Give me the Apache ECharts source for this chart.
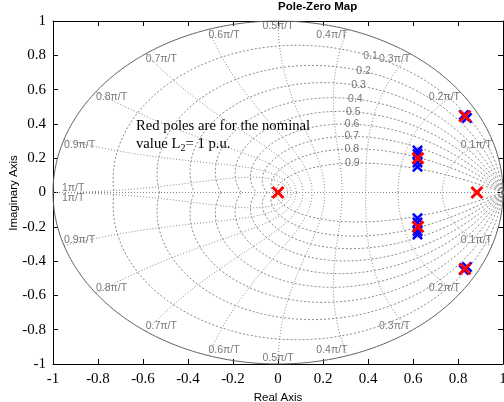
<!DOCTYPE html>
<html><head><meta charset="utf-8">
<script src="https://cdn.jsdelivr.net/npm/echarts@6/dist/echarts.min.js"></script>
<style>html,body{margin:0;padding:0;background:#fff}#c{width:504px;height:402px}</style>
</head><body><div id="c"></div>
<script>
// ---- data ----
const zetaValues = [0.1,0.2,0.3,0.4,0.5,0.6,0.7,0.8,0.9];
const zetaLabels = ['0.1','0.2','0.3','0.4','0.5','0.6','0.7','0.8','0.9'];
const wnFactors = [0.1,0.2,0.3,0.4,0.5,0.6,0.7,0.8,0.9,1.0];
const wnLabels = ['0.1π/T','0.2π/T','0.3π/T','0.4π/T','0.5π/T','0.6π/T','0.7π/T','0.8π/T','0.9π/T','1π/T'];
const bluePolesRe = [0.62,0.62,0.62,0.62,0.62,0.62,0.62,0.62,0.826,0.84,0.826,0.84];
const bluePolesIm = [0.245,0.225,0.175,0.15,-0.245,-0.225,-0.175,-0.15,0.452,0.435,-0.452,-0.435];
const redPolesRe = [0,0.884,0.622,0.622,0.831,0.831];
const redPolesIm = [0,0,0.2,-0.2,0.445,-0.445];
const titleText = 'Pole-Zero Map';
const xName = 'Real Axis', yName = 'Imaginary Axis';

// ---- grid geometry helpers ----
const PI = Math.PI;
function zetaCurve(z, sgn){
  const m = z/Math.sqrt(1-z*z), pts=[];
  for(let i=0;i<=200;i++){const th=PI*i/200, r=Math.exp(-m*th); pts.push([r*Math.cos(th), sgn*r*Math.sin(th)]);}
  return pts;
}
function wnCurve(w, sgn){
  const pts=[];
  for(let i=0;i<=200;i++){const zt=Math.sin(PI/2*i/200), r=Math.exp(-zt*w), a=w*Math.sqrt(Math.max(0,1-zt*zt)); pts.push([r*Math.cos(a), sgn*r*Math.sin(a)]);}
  return pts;
}
const gridColor = '#858585';
const series = [];
const circ=[]; for(let i=0;i<=360;i++){const a=i*PI/180; circ.push([Math.cos(a),Math.sin(a)]);}
series.push({type:'line',data:circ,showSymbol:false,silent:true,lineStyle:{color:'#606060',width:1},z:2});
series.push({type:'line',data:[[-1,0],[1,0]],showSymbol:false,silent:true,lineStyle:{color:gridColor,width:1,type:[1,2]},z:1});
zetaValues.forEach(z=>{[1,-1].forEach(s=>series.push({type:'line',data:zetaCurve(z,s),showSymbol:false,silent:true,lineStyle:{color:gridColor,width:1,type:[2,2]},z:1}));});
wnFactors.forEach(f=>{[1,-1].forEach(s=>series.push({type:'line',data:wnCurve(f*PI,s),showSymbol:false,silent:true,lineStyle:{color:gridColor,width:1,type:[1,2]},z:1}));});

// zeta labels at wn = 0.35*pi on each curve
const zLab = zetaValues.map((z,i)=>{const w=0.35*PI, r=Math.exp(-z*w), a=w*Math.sqrt(1-z*z);
  return {value:[r*Math.cos(a), r*Math.sin(a)], label:{formatter:zetaLabels[i]}};});
series.push({type:'scatter',data:zLab,symbolSize:1,itemStyle:{color:'transparent'},silent:true,z:3,
  label:{show:true,position:'inside',align:'center',verticalAlign:'middle',fontSize:10.5,fontFamily:'Liberation Sans',color:'#555'}});
// wn labels on unit circle
const wLab=[];
wnFactors.forEach((f,i)=>{[1,-1].forEach(s=>{
  const a=f*PI; let x=Math.cos(a), y=s*Math.sin(a);
  let align = x>0.01?'right':(x<-0.01?'left':'center');
  let va = s>0?'top':'bottom'; let off=[0,0];
  if(f===1){ y=0; align='left'; va = s>0?'bottom':'top'; off=[9, s>0?1:0]; }
  wLab.push({value:[x,y],label:{formatter:wnLabels[i],align:align,verticalAlign:va,offset:off}});
});});
series.push({type:'scatter',data:wLab,symbolSize:1,itemStyle:{color:'transparent'},silent:true,z:3,
  label:{show:true,position:'inside',fontSize:10.5,fontFamily:'Liberation Sans',color:'#555'}});

const xMark = 'path://M0,1.6L1.6,0L5,3.4L8.4,0L10,1.6L6.6,5L10,8.4L8.4,10L5,6.6L1.6,10L0,8.4L3.4,5Z';
series.push({type:'scatter',data:bluePolesRe.map((x,i)=>[x,bluePolesIm[i]]),symbol:xMark,symbolSize:11,itemStyle:{color:'#0000ff',opacity:1},silent:true,z:5});
series.push({type:'scatter',data:redPolesRe.map((x,i)=>[x,redPolesIm[i]]),symbol:xMark,symbolSize:13,itemStyle:{color:'#ff0000',opacity:1},silent:true,z:6});

const chart = echarts.init(document.getElementById('c'),null,{renderer:'canvas'});
const axisCommon = {type:'value',min:-1,max:1,interval:0.2,splitLine:{show:false},
  axisLine:{show:true,onZero:false,lineStyle:{color:'#000',width:1}},
  axisTick:{show:true,inside:true,length:5,lineStyle:{color:'#000'}}};
chart.setOption({
  animation:false,
  grid:{left:53,right:1,top:21,bottom:38,containLabel:false,outerBoundsMode:'none'},
  xAxis:[
    Object.assign({},axisCommon,{position:'bottom',name:xName,nameLocation:'middle',nameGap:23,
      nameTextStyle:{fontFamily:'Liberation Sans',fontSize:11.5,color:'#000'},
      axisLabel:{fontFamily:'Liberation Serif',fontSize:15,color:'#000',margin:8,showMaxLabel:true,formatter:v=>String(Math.round(v*10)/10)}}),
    Object.assign({},axisCommon,{position:'top',axisLabel:{show:false}})
  ],
  yAxis:[
    Object.assign({},axisCommon,{position:'left',
      axisLabel:{fontFamily:'Liberation Serif',fontSize:15,color:'#000',margin:7,formatter:v=>String(Math.round(v*10)/10)}}),
    Object.assign({},axisCommon,{position:'right',axisLabel:{show:false}})
  ],
  series:series,
  graphic:[
    {type:'text',left:278,top:1,style:{text:titleText,font:'bold 11.5px "Liberation Sans"',fill:'#000',textAlign:'center'},z:10},
    {type:'text',x:14,y:193,rotation:Math.PI/2,z:10,style:{text:yName,font:'11.5px "Liberation Sans"',fill:'#000',align:'center',verticalAlign:'middle'}},
    {type:'text',x:136,y:117,z:10,style:{
      text:'{a|Red poles are for the nominal}\n{a|value L}{s|2}{a|= 1 p.u.}',
      rich:{a:{fontFamily:'Liberation Serif',fontSize:14.7,color:'#000',lineHeight:18,height:18},
            s:{fontFamily:'Liberation Serif',fontSize:10,color:'#000',lineHeight:18,height:18,padding:[9,0,0,0]}}}}
  ]
});
</script></body></html>
